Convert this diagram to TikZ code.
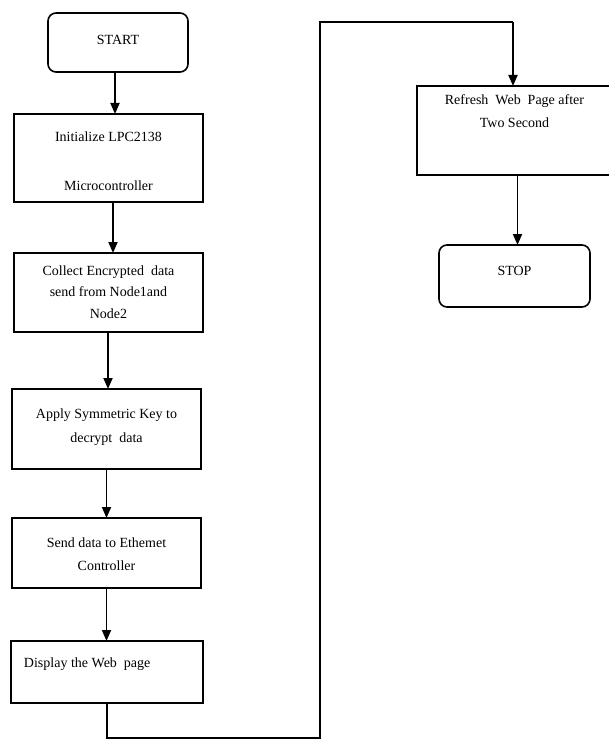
\documentclass[tikz,border=0pt]{standalone}
\usepackage{fontspec}
\setmainfont{Liberation Serif}
\usetikzlibrary{arrows.meta,calc}
\newcommand{\bt}[5][c]{\begin{minipage}[t][#3][t]{#2}\ifx#1c\centering\else\raggedright\hspace*{13pt}\fi\rule{0pt}{#4}#5\end{minipage}}
\begin{document}
\begin{tikzpicture}[x=1pt,y=-1pt,
  every node/.style={inner sep=0pt,outer sep=0pt,font=\fontsize{14}{21}\selectfont},
  procbox/.style={draw,line width=1.6pt,anchor=north west,rectangle},
  termbox/.style={procbox,rounded corners=8pt},
  arr/.style={line width=1.8pt,-{Triangle[length=11pt,width=9pt]}},
  flow/.style={line width=1.8pt}]
\useasboundingbox[fill=white] (0,0) rectangle (608,749);

\node[termbox] (start) at (48,13) {\bt{140pt}{59pt}{32pt}{START}};
\node[procbox] (b1) at (14,114) {\bt{189pt}{88pt}{27pt}{Initialize LPC2138\\[28pt]Microcontroller}};
\node[procbox] (b2) at (14,253) {\bt{189pt}{79pt}{22pt}{Collect Encrypted\ \ data\\[0.5pt]send from Node1and\\[0.5pt]Node2}};
\node[procbox] (b3) at (12,389) {\bt{189pt}{80pt}{29pt}{Apply Symmetric Key to\\[3pt]decrypt\ \ data}};
\node[procbox] (b4) at (12,518) {\bt{189pt}{70pt}{29pt}{Send data to Ethemet\\[2pt]Controller}};
\node[procbox] (b5) at (11,641) {\bt[l]{192pt}{62pt}{26pt}{Display the Web\ \ page}};
\node[procbox] (b6) at (417,86) {\bt{195pt}{89pt}{19pt}{Refresh\ \ Web\ \ Page after\\[2pt]Two Second}};
\node[termbox] (stop) at (439,245) {\bt{151pt}{62pt}{30pt}{STOP}};

\coordinate (c1) at (107,738);
\coordinate (c2) at (320,738);
\coordinate (c3) at (320,22);
\coordinate (c4) at (513,22);

\draw[arr] ([xshift=-3pt]start.south) -- ([xshift=-3pt]start.south |- b1.north);
\draw[arr] ([xshift=4.5pt]b1.south) -- ([xshift=4.5pt]b1.south |- b2.north);
\draw[arr] ([xshift=-0.5pt]b2.south) -- ([xshift=-0.5pt]b2.south |- b3.north);
\draw[arr] (b3.south) -- (b3.south |- b4.north);
\draw[arr] (b4.south) -- (b4.south |- b5.north);
\draw[flow] (b5.south -| c1) -- (c1) -- (c2) -- (c3) -- (c4);
\draw[arr] (c4) -- (c4 |- b6.north);
\draw[arr] ([xshift=3pt]b6.south) -- ([xshift=3pt]b6.south |- stop.north);
\end{tikzpicture}
\end{document}
